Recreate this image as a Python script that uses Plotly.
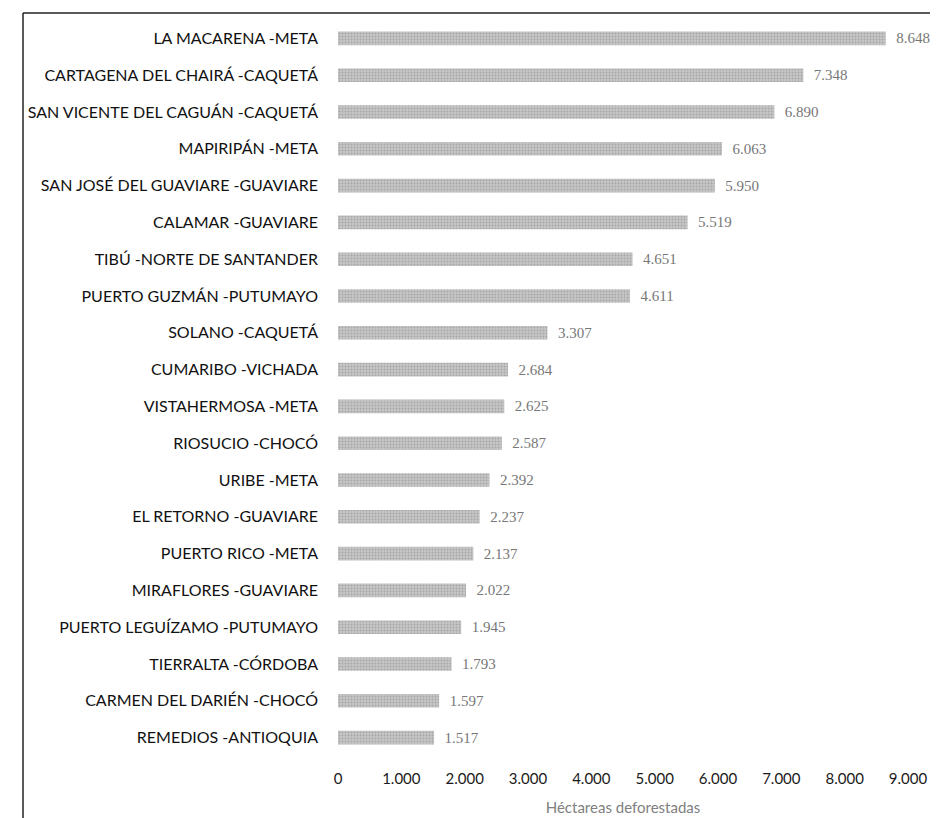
import plotly.graph_objects as go

municipios = [
    "LA MACARENA -META",
    "CARTAGENA DEL CHAIRÁ -CAQUETÁ",
    "SAN VICENTE DEL CAGUÁN -CAQUETÁ",
    "MAPIRIPÁN -META",
    "SAN JOSÉ DEL GUAVIARE -GUAVIARE",
    "CALAMAR -GUAVIARE",
    "TIBÚ -NORTE DE SANTANDER",
    "PUERTO GUZMÁN -PUTUMAYO",
    "SOLANO -CAQUETÁ",
    "CUMARIBO -VICHADA",
    "VISTAHERMOSA -META",
    "RIOSUCIO -CHOCÓ",
    "URIBE -META",
    "EL RETORNO -GUAVIARE",
    "PUERTO RICO -META",
    "MIRAFLORES -GUAVIARE",
    "PUERTO LEGUÍZAMO -PUTUMAYO",
    "TIERRALTA -CÓRDOBA",
    "CARMEN DEL DARIÉN -CHOCÓ",
    "REMEDIOS -ANTIOQUIA",
]
hectareas = [8648, 7348, 6890, 6063, 5950, 5519, 4651, 4611, 3307, 2684,
             2625, 2587, 2392, 2237, 2137, 2022, 1945, 1793, 1597, 1517]
x_ticks = [0, 1000, 2000, 3000, 4000, 5000, 6000, 7000, 8000, 9000]
x_title = "Héctareas deforestadas"

W, H = 938, 818
ML, MR, MT, MB = 330, 38, 12, 70

fig = go.Figure(go.Bar(
    y=municipios,
    x=hectareas,
    orientation="h",
    marker=dict(
        color="#b4b4b4",
        line=dict(width=0),
        pattern=dict(shape=".", fgcolor="#858585", bgcolor="#c6c6c6", size=3, solidity=0.35),
    ),
    text=[f"{v:,}".replace(",", ".") for v in hectareas],
    texttemplate="  %{text}",
    textposition="outside",
    constraintext="none",
    textfont=dict(family="Liberation Serif", size=15, color="#777777"),
    cliponaxis=False,
))

pw = W - ML - MR
ph = H - MT - MB


def px_x(p):
    return (p - ML) / pw


def px_y(p):
    return 1 - (p - MT) / ph


fig.update_layout(
    width=W, height=H,
    margin=dict(l=ML, r=MR, t=MT, b=MB, pad=0),
    paper_bgcolor="white",
    plot_bgcolor="white",
    separators=",.",
    showlegend=False,
    bargap=0.63,
    font=dict(family="Lato", color="#1a1a1a"),
    xaxis=dict(
        range=[0, 9000],
        tickvals=x_ticks,
        tickformat=",d",
        showgrid=False, zeroline=False, showline=False, ticks="",
        tickfont=dict(family="Lato", size=15, color="#1a1a1a"),
        ticklabelstandoff=12,
        title=dict(text=x_title, font=dict(family="Lato", size=15, color="#808080"), standoff=16),
    ),
    yaxis=dict(
        categoryorder="array",
        categoryarray=municipios,
        autorange="reversed",
        showgrid=False, zeroline=False, showline=False, ticks="",
        tickfont=dict(family="Lato", size=16, color="#111111"),
        ticklabelstandoff=19,
    ),
    shapes=[
        dict(type="line", xref="paper", yref="paper",
             x0=px_x(15), x1=px_x(15), y0=px_y(5), y1=px_y(H + 5),
             line=dict(color="#222222", width=1.5)),
        dict(type="line", xref="paper", yref="paper",
             x0=px_x(15), x1=px_x(W + 5), y0=px_y(5), y1=px_y(5),
             line=dict(color="#222222", width=1.5)),
    ],
)

fig.write_html("out.html")
